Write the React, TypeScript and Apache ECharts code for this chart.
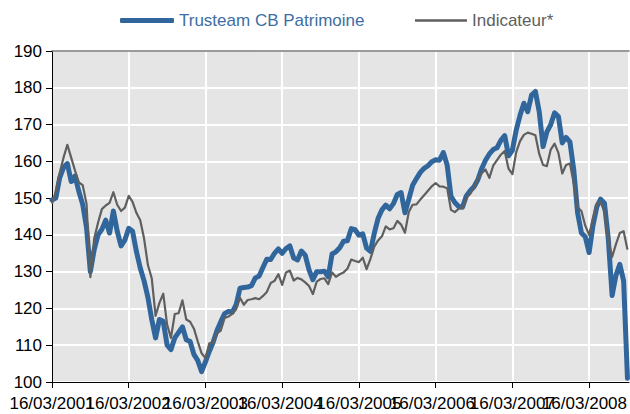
import React, { useEffect, useRef } from "react";
import * as echarts from "echarts";

// Sampling: one point every 1/20 of a year, starting 16/03/2001
const startYear = 2001;
const stepYears = 0.05;

const yearLabels = [
  "16/03/2001", "16/03/2002", "16/03/2003", "16/03/2004",
  "16/03/2005", "16/03/2006", "16/03/2007", "16/03/2008",
];

const seriesNames = ["Trusteam CB Patrimoine", "Indicateur*"];

const trusteam = [
  149.5, 150, 155.5, 158.3, 159.4, 154.5, 156, 151.8, 148.3, 142,
  130, 136, 140, 141.5, 144, 140.5, 146.5, 141, 137, 138.6,
  141.8, 141, 135.5, 131, 127.5, 123, 117, 112, 117, 116.5,
  110, 108.8, 112, 113.5, 115, 111.5, 111, 107.5, 105.8, 102.8,
  105.5, 108.3, 110.8, 114, 116.4, 118.6, 119.2, 119, 121, 125.5,
  125.7, 125.8, 126.2, 128.3, 128.8, 131.2, 133.4, 133.3, 135, 136.2,
  135, 136.3, 137, 133.7, 133.2, 135.6, 134.5, 130.5, 127.8, 130,
  130, 130.1, 128.6, 134.8, 135.4, 136.5, 138.3, 138.4, 141.7, 141.4,
  139.9, 140.3, 136.4, 135.5, 140.4, 144.5, 146.8, 148.1, 147.1, 148.5,
  151, 151.5, 146, 149.7, 153.5, 155.3, 157, 158.1, 158.8, 159.9,
  160.4, 160.3, 162.4, 159, 150.5, 148.8, 147.7, 147.5, 150.6, 152,
  153.1, 155, 158, 160.3, 162, 163.2, 163.7, 165.7, 167, 161.5,
  163, 168.5, 172.5, 175.8, 173.5, 178, 179, 173.5, 164, 168,
  170, 173.2, 172.2, 165, 166.5, 165.3, 157.7, 146, 140.5, 139.5,
  135.2, 142.5, 147.6, 149.7, 148.6, 139, 123.5, 129, 132, 127.5,
  101,
];

const indicateur = [
  148.5, 151.8, 156.8, 161, 164.5, 161, 157.5, 154.3, 153.5, 148.5,
  128.5, 139, 143.3, 147, 148, 148.7, 151.6, 148.2, 146.5, 147.4,
  150.6, 149, 146, 144, 139, 131.8, 128.2, 118, 121.5, 124,
  115.6, 112, 118.5, 118.7, 122.2, 117, 116.4, 114.5, 111, 107.8,
  106.5, 110.5, 110.7, 113.2, 114, 117.4, 117.8, 118.5, 119.8, 122.9,
  121, 122.3, 122.5, 122.8, 122.5, 123.4, 124.5, 126.9, 127.5, 129.3,
  126.4, 129.8, 130.3, 127.6, 128.3, 127.9, 127.1, 126.1, 123.9, 127.3,
  128, 128.2, 126.6, 129.8, 128.6, 129.3, 129.8, 130.8, 133.3, 132.9,
  132.6, 133.8, 130.7, 133.5, 136.8, 138.5, 139.6, 142.3, 141.5, 141.8,
  143.8, 142.8, 140.6, 146.2, 148.2, 148.3, 149.6, 150.8, 152, 153.2,
  154.1, 153.2, 153.1, 152.7, 146.8, 146.2, 147.1, 147.3, 150.1, 151.1,
  152.9, 155.3, 156.8, 157.8, 155.5, 158.8, 160.3, 161.8, 162.8, 158,
  156.5, 162.5, 165.5, 167.2, 167.8, 167.5, 167.1, 162, 159, 158.7,
  163.2, 164.8, 162.3, 156.7, 159, 159.4, 154, 147.5, 146.5, 142.5,
  140, 144.5, 148.5, 149, 146.2, 138.5, 134, 137.5, 140.5, 141,
  136,
];

const toPoints = (vals: number[]) => vals.map((v, i) => [i * stepYears, v]);

const FONT = "Liberation Sans";
const X_MAX = 7.52;

const yearFormatter = (parity: number) => (v: number) => {
  const k = Math.round(v);
  if (Math.abs(v - k) > 1e-6 || !yearLabels[k] || k % 2 !== parity) return "";
  return yearLabels[k];
};

const labelStyle = {
  color: "#000",
  fontSize: 17,
  fontFamily: FONT,
  margin: 13,
  showMinLabel: true,
  showMaxLabel: false,
};

export default function App() {
  const ref = useRef<HTMLDivElement>(null);

  useEffect(() => {
    if (!ref.current) return;
    const chart = echarts.init(ref.current, null, { renderer: "svg" });
    const gridRect = { left: 52, right: 1, top: 51, bottom: 32 };
    chart.setOption({
      animation: false,
      textStyle: { fontFamily: FONT },
      legend: [
        {
          data: [seriesNames[0]],
          left: 120,
          top: 12,
          padding: 0,
          icon: "roundRect",
          itemWidth: 54,
          itemHeight: 5,
          itemGap: 0,
          textStyle: { color: "#3d6ea3", fontSize: 17, fontFamily: FONT },
        },
        {
          data: [seriesNames[1]],
          left: 415,
          top: 12,
          padding: 0,
          icon: "rect",
          itemWidth: 52,
          itemHeight: 2.5,
          textStyle: { color: "#5e5e5e", fontSize: 17, fontFamily: FONT },
        },
      ],
      grid: [
        { ...gridRect, show: true, backgroundColor: "#e5e5e5", borderWidth: 0 },
        { ...gridRect, show: false },
      ],
      xAxis: [
        {
          gridIndex: 0,
          type: "value",
          min: 0,
          max: X_MAX,
          interval: 1,
          axisLine: { show: true, lineStyle: { color: "#000", width: 1 } },
          axisTick: { show: true, length: 6, lineStyle: { color: "#000" } },
          axisLabel: { ...labelStyle, formatter: yearFormatter(0) },
          splitLine: { show: true, lineStyle: { color: "#ffffff", width: 2 } },
        },
        {
          gridIndex: 0,
          type: "value",
          position: "top",
          min: 0,
          max: X_MAX,
          axisLine: { show: true, lineStyle: { color: "#7a7a7a", width: 1.5 } },
          axisTick: { show: false },
          axisLabel: { show: false },
          splitLine: { show: false },
        },
        {
          gridIndex: 1,
          type: "value",
          position: "bottom",
          min: 0,
          max: X_MAX,
          interval: 1,
          axisLine: { show: false },
          axisTick: { show: false },
          axisLabel: { ...labelStyle, formatter: yearFormatter(1) },
          splitLine: { show: false },
        },
      ],
      yAxis: [
        {
          gridIndex: 0,
          type: "value",
          min: 100,
          max: 190,
          interval: 10,
          axisLine: { show: true, lineStyle: { color: "#000", width: 1 } },
          axisTick: { show: true, length: 6, lineStyle: { color: "#000" } },
          axisLabel: { color: "#000", fontSize: 17, fontFamily: FONT, margin: 10 },
          splitLine: { show: true, lineStyle: { color: "#ffffff", width: 2 } },
        },
        {
          gridIndex: 1,
          type: "value",
          min: 100,
          max: 190,
          interval: 10,
          show: false,
        },
      ],
      series: [
        {
          name: seriesNames[0],
          type: "line",
          xAxisIndex: 0,
          yAxisIndex: 0,
          data: toPoints(trusteam),
          symbol: "none",
          color: "#30669b",
          lineStyle: { width: 5, color: "#30669b", join: "round", cap: "round" },
        },
        {
          name: seriesNames[1],
          type: "line",
          xAxisIndex: 0,
          yAxisIndex: 0,
          data: toPoints(indicateur),
          symbol: "none",
          color: "#5f5f5f",
          lineStyle: { width: 2.2, color: "#5f5f5f", join: "round" },
        },
      ],
    });
    return () => chart.dispose();
  }, []);

  return (
    <div
      ref={ref}
      style={{ position: "absolute", left: 0, top: 0, width: 630, height: 414 }}
    />
  );
}
